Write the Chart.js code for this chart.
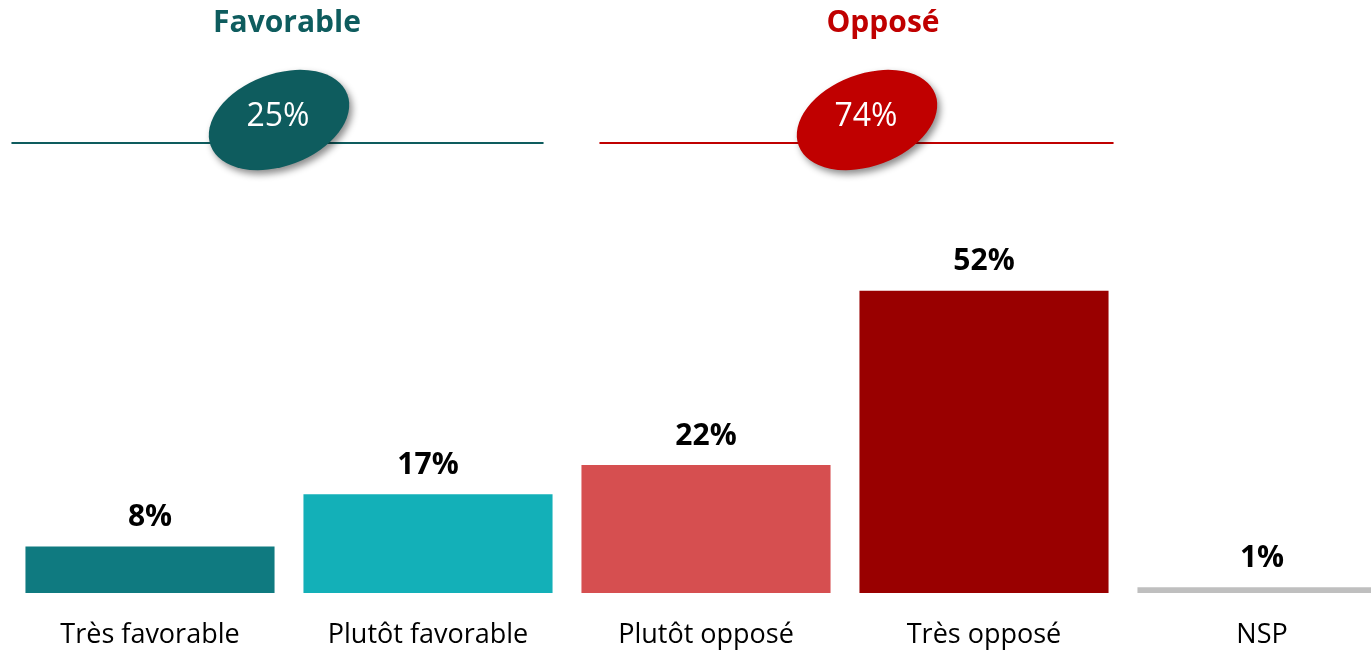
<!DOCTYPE html>
<html>
<head>
<meta charset="utf-8">
<script src="https://cdn.jsdelivr.net/npm/chart.js@4"></script>
<style>
  html, body { margin: 0; padding: 0; background: #fff; overflow: hidden; }
  #wrap { position: absolute; left: 11px; top: 0; width: 1390px; height: 650px; }
</style>
</head>
<body>
<div id="wrap"><canvas id="barChart"></canvas></div>
<script>
const labels = ['Très favorable', 'Plutôt favorable', 'Plutôt opposé', 'Très opposé', 'NSP'];
const values = [8, 17, 22, 52, 1];
const colors = ['#0f7a80', '#13b0b8', '#d64f50', '#990000', '#bfbfbf'];

// groupes en haut
const groupNames = ['Favorable', 'Opposé'];
const groupTotals = [25, 74];
const groupColors = ['#0e5c5e', '#c00000'];
const groupCats = [[0, 1], [2, 3]];

const FONT = '"Open Sans", sans-serif';

// etiquettes au dessus des barres
const valueLabels = {
  id: 'valueLabels',
  afterDatasetsDraw(chart) {
    const ctx = chart.ctx;
    const meta = chart.getDatasetMeta(0);
    ctx.save();
    ctx.font = 'bold 30px ' + FONT;
    ctx.fillStyle = '#000';
    ctx.textAlign = 'center';
    ctx.textBaseline = 'bottom';
    meta.data.forEach((bar, i) => {
      ctx.fillText(values[i] + '%', bar.x, bar.y - 14);
    });
    ctx.restore();
  }
};

// titres, lignes et ellipses
const groupHeader = {
  id: 'groupHeader',
  afterDraw(chart) {
    const ctx = chart.ctx;
    const meta = chart.getDatasetMeta(0);
    ctx.save();
    groupNames.forEach((name, g) => {
      const a = meta.data[groupCats[g][0]];
      const b = meta.data[groupCats[g][1]];
      const left = a.x - a.width / 2 + (g === 0 ? -14 : 18);
      const right = b.x + b.width / 2 + (g === 0 ? -9 : 5);
      const mid = (a.x + b.x) / 2;
      const titleX = mid + (g === 0 ? -2 : 38);
      const ellX = mid + (g === 0 ? -10 : 22);

      ctx.fillStyle = groupColors[g];
      ctx.font = 'bold 30px ' + FONT;
      ctx.textAlign = 'center';
      ctx.textBaseline = 'middle';
      ctx.fillText(name, titleX, 23);

      ctx.strokeStyle = groupColors[g];
      ctx.lineWidth = 2;
      ctx.beginPath();
      ctx.moveTo(left, 143);
      ctx.lineTo(right, 143);
      ctx.stroke();

      ctx.save();
      ctx.shadowColor = 'rgba(0,0,0,0.45)';
      ctx.shadowBlur = 7;
      ctx.shadowOffsetX = 3;
      ctx.shadowOffsetY = 4;
      ctx.fillStyle = groupColors[g];
      ctx.beginPath();
      ctx.ellipse(ellX, 120, 73, 46, -0.36, 0, Math.PI * 2);
      ctx.fill();
      ctx.restore();

      ctx.fillStyle = '#fff';
      ctx.font = '32px ' + FONT;
      ctx.fillText(groupTotals[g] + '%', ellX - 1, 117);
    });
    ctx.restore();
  }
};

new Chart(document.getElementById('barChart'), {
  type: 'bar',
  data: {
    labels: labels,
    datasets: [{
      data: values,
      backgroundColor: colors,
      categoryPercentage: 1,
      barPercentage: 0.896
    }]
  },
  options: {
    responsive: true,
    maintainAspectRatio: false,
    animation: false,
    layout: { padding: 0 },
    plugins: { legend: { display: false }, tooltip: { enabled: false } },
    scales: {
      x: {
        grid: { display: false },
        border: { display: false },
        ticks: { color: '#000', font: { family: FONT, size: 27 }, padding: 18, maxRotation: 0, autoSkip: false },
        afterFit(scale) { scale.height = 57; }
      },
      y: { display: false, min: 0, max: 102 }
    }
  },
  plugins: [valueLabels, groupHeader]
});
</script>
</body>
</html>
